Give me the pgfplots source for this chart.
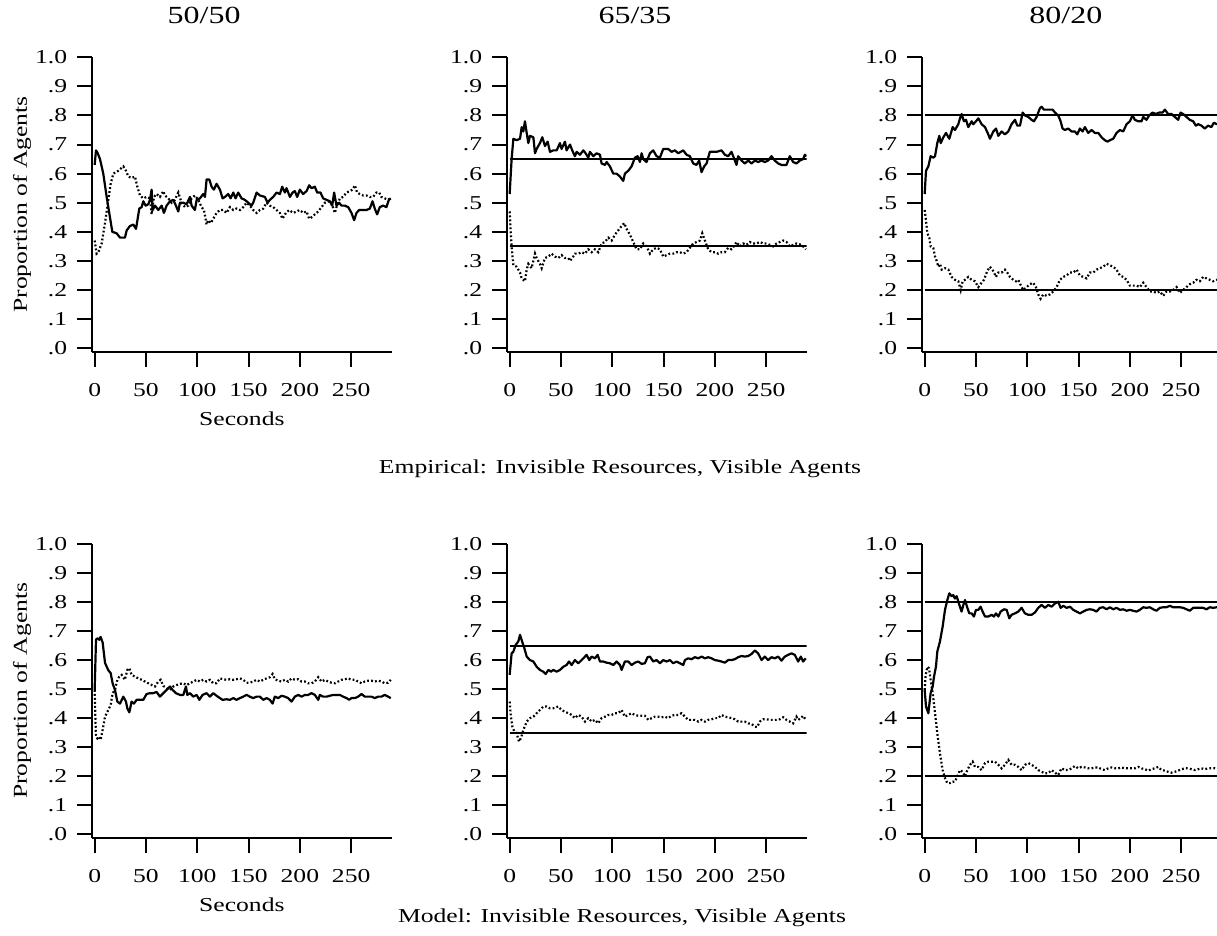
\documentclass[border=0pt]{standalone}
\usepackage{fontspec}
\setmainfont{Liberation Serif}[FakeStretch=1.3]
\usepackage{pgfplots}
\pgfplotsset{compat=1.18}
\newcommand{\tfont}{\fontsize{9.85}{11}\selectfont}
\pgfplotsset{
  panel/.style={
    scale only axis, width=149.85pt,
    xmin=-2.6, xmax=289.5, ymin=-0.012, ymax=1.0,
    axis x line=bottom, axis y line=left,
    axis line style={-, line width=1pt, black},
    xtick={0,50,100,150,200,250}, xticklabels={0,50,100,150,200,250},
    ytick={0,0.1,0.2,0.3,0.4,0.5,0.6,0.7,0.8,0.9,1},
    yticklabels={.0,.1,.2,.3,.4,.5,.6,.7,.8,.9,1.0},
    tick align=outside, major tick length=7.5pt,
    every tick/.style={line width=1pt, black},
    tick label style={font=\tfont, black},
    xticklabel shift=5pt, yticklabel shift=1.4pt,
    label style={font=\tfont},
    title style={font=\fontsize{12.3}{14}\selectfont, anchor=center},
    xlabel style={at={(axis description cs:0.5,0)}, anchor=center, yshift=-33.65pt},
    ylabel style={at={(axis description cs:-0.2336,0.5)}, anchor=center},
    clip=true,
  },
  toprow/.style={panel, height=147.2pt},
  botrow/.style={panel, height=146.85pt},
  ser/.style={black, line width=1.1pt, no marks, line join=round},
  dts/.style={black, line width=1.1pt, no marks, dash pattern=on 0.9pt off 1.1pt},
  refl/.style={black, line width=1pt, no marks},
}
\begin{document}
\begin{tikzpicture}
\useasboundingbox (0,0) rectangle (608.5pt,468pt);
\clip (0,0) rectangle (608.5pt,468pt);

% ---------- Top row: Empirical ----------
\begin{axis}[toprow, at={(46pt,292.15pt)}, anchor=south west,
  title={50/50}, title style={at={(axis description cs:0.374,1.1)}},
  xlabel={Seconds}, ylabel={Proportion of Agents}]
\addplot[ser] coordinates {(0,.63)(1.3,.68)(3,.67)(5.2,.65)(8.4,.60)(11.7,.52)(14.9,.45)(17.2,.40)(21.4,.395)(24.7,.38)(29.5,.38)(31.2,.405)(34.4,.42)(37.7,.425)(40.3,.41)(43.5,.48)(45.8,.485)(47.4,.505)(49.7,.49)(52.3,.495)(53.9,.51)(55.5,.545)(56.5,.475)(58.8,.49)(62,.475)(65.3,.49)(67.5,.465)(70.1,.49)(73.4,.505)(76.6,.51)(79.2,.49)(81.5,.47)(83.1,.50)(86.4,.50)(89.6,.495)(92.9,.52)(94.5,.49)(97.7,.475)(99.4,.51)(102.6,.515)(105.8,.53)(107.5,.52)(109.1,.58)(111.7,.58)(114,.555)(116.2,.545)(118.8,.565)(122.1,.545)(124.7,.515)(127,.52)(130.2,.53)(132.5,.515)(135.1,.535)(137.3,.515)(139.9,.535)(143.2,.515)(146.4,.51)(149.7,.50)(152.9,.49)(154.5,.50)(157.8,.535)(161,.525)(165.9,.52)(168.5,.50)(170.8,.51)(174,.52)(177.3,.535)(180.5,.53)(182.8,.555)(185.4,.535)(187,.55)(190.3,.52)(192.9,.535)(195.1,.54)(197.4,.52)(200,.545)(203.2,.53)(206.5,.54)(209.1,.56)(211.4,.55)(214.6,.555)(216.9,.535)(220.1,.535)(222.7,.515)(226,.51)(229.2,.505)(231.5,.49)(233.4,.535)(235.7,.49)(238.3,.50)(240.6,.49)(243.8,.49)(247.1,.485)(250.3,.465)(252.9,.44)(255.2,.465)(257.8,.475)(261,.475)(264.9,.475)(268.2,.48)(270.8,.505)(273,.48)(275.3,.46)(277.9,.485)(281.2,.49)(284.4,.485)(286.7,.51)(288.6,.515)};
\addplot[dts] coordinates {(0,.37)(1.9,.325)(3.6,.33)(6.8,.36)(10.1,.43)(13.3,.51)(15.6,.565)(18.2,.60)(23.1,.61)(27.9,.625)(30.5,.61)(32.8,.59)(36,.585)(39.3,.59)(41.6,.555)(44.2,.525)(47.4,.515)(50.6,.52)(53.9,.515)(55.5,.46)(57.8,.52)(60.4,.53)(63.6,.52)(66.9,.54)(68.5,.525)(71.8,.515)(75,.50)(78.2,.51)(81.5,.535)(84.7,.50)(88,.485)(91.2,.49)(94.5,.515)(97.7,.525)(101,.51)(104.2,.485)(106.5,.475)(109.1,.425)(110.7,.44)(113.3,.43)(115.6,.445)(118.8,.465)(122.1,.475)(125.3,.475)(128.6,.465)(131.8,.485)(135.1,.475)(138.3,.48)(141.6,.475)(144.8,.485)(148.1,.50)(151.3,.49)(154.5,.475)(157.8,.465)(161,.475)(164.3,.48)(167.5,.50)(170.8,.49)(174,.485)(177.3,.475)(180.5,.465)(183.1,.445)(186.4,.465)(189.6,.475)(193.5,.465)(196.8,.47)(200,.475)(203.2,.465)(206.5,.47)(209.1,.445)(211.4,.45)(214.6,.46)(217.9,.47)(221.1,.485)(224.4,.50)(227.6,.505)(230.8,.50)(234.1,.465)(235.7,.485)(239,.515)(242.2,.52)(245.5,.535)(248.7,.54)(251.3,.545)(253.6,.56)(255.8,.535)(258.4,.53)(261.7,.525)(264.9,.525)(268.2,.52)(271.4,.52)(274.7,.535)(277.3,.535)(279.5,.52)(282.8,.515)(286,.51)(288.6,.515)};
\end{axis}

\begin{axis}[toprow, at={(253.5pt,292.15pt)}, anchor=south west,
  title={65/35}, title style={at={(axis description cs:0.427,1.1)}}]
\addplot[refl] coordinates {(0,.65)(289.5,.65)};
\addplot[refl] coordinates {(0,.35)(289.5,.35)};
\addplot[ser] coordinates {(0,.53)(1.9,.65)(3.6,.72)(6.8,.715)(10.1,.72)(11.7,.76)(13.3,.745)(14.9,.78)(16.6,.74)(18.2,.705)(19.8,.73)(23.1,.725)(24.7,.67)(26.3,.685)(29.5,.705)(31.8,.725)(34.4,.695)(37,.71)(39.3,.675)(42.5,.68)(45.8,.68)(49,.705)(50.6,.685)(53.9,.71)(55.5,.68)(58.8,.70)(61,.68)(63.6,.66)(65.3,.675)(68.5,.665)(71.8,.68)(74,.67)(76.6,.655)(78.2,.675)(81.5,.66)(84.7,.67)(88,.665)(89.6,.635)(92.9,.63)(94.5,.64)(97.7,.625)(101,.60)(104.2,.60)(107.5,.59)(110.7,.575)(112.3,.60)(115.6,.61)(118.8,.625)(122.1,.655)(124.7,.66)(127,.64)(128.6,.67)(130.2,.65)(133.4,.64)(136.7,.67)(139.9,.68)(143.2,.66)(146.4,.655)(149.7,.685)(154.5,.685)(157.8,.675)(161,.68)(164.3,.67)(169.2,.68)(172.4,.665)(175.6,.66)(178.9,.635)(182.1,.63)(184.7,.645)(187,.605)(189.6,.625)(191.9,.635)(195.1,.675)(198.4,.675)(201.6,.675)(206.5,.68)(209.7,.665)(213,.66)(216.2,.675)(219.5,.645)(221.1,.63)(222.7,.66)(226,.645)(229.2,.635)(232.5,.645)(235.7,.635)(239,.645)(242.2,.64)(245.5,.645)(248.7,.64)(251.9,.645)(255.2,.66)(258.4,.645)(261.7,.635)(264.9,.63)(269.8,.63)(273,.66)(276.3,.64)(279.5,.635)(282.8,.645)(286,.65)(287.7,.665)(289.3,.66)};
\addplot[dts] coordinates {(0,.47)(1,.405)(1.9,.35)(3.6,.285)(6.8,.28)(10.1,.26)(11.7,.24)(14.9,.23)(16.6,.27)(18.2,.29)(21.4,.275)(24.7,.325)(26.3,.31)(29.5,.29)(31.2,.275)(34.4,.31)(37.7,.315)(40.9,.325)(44.2,.315)(47.4,.31)(50.6,.32)(53.9,.31)(57.1,.31)(58.8,.30)(62,.315)(63.6,.325)(66.9,.325)(70.1,.33)(73.4,.325)(76.6,.34)(79.9,.33)(83.1,.34)(86.4,.33)(89.6,.36)(92.9,.365)(96.1,.38)(99.4,.37)(102.6,.39)(105.8,.405)(109.1,.42)(111.7,.43)(114,.41)(117.2,.39)(120.5,.365)(123.7,.34)(127,.34)(130.2,.36)(133.4,.35)(136.7,.325)(139.9,.34)(143.2,.345)(146.4,.34)(149.7,.315)(152.9,.32)(156.2,.325)(159.4,.325)(162.7,.33)(165.9,.33)(169.2,.325)(172.4,.33)(175.6,.345)(178.9,.36)(182.1,.365)(185.4,.37)(187.7,.395)(190.3,.37)(193.5,.34)(196.8,.33)(200,.33)(203.2,.325)(206.5,.33)(209.7,.33)(213,.345)(216.2,.34)(219.5,.355)(221.1,.365)(224.4,.35)(227.6,.36)(230.8,.355)(234.1,.365)(237.3,.36)(240.6,.36)(243.8,.365)(247.1,.36)(250.3,.36)(253.6,.355)(256.8,.35)(260.1,.36)(263.3,.365)(266.6,.37)(269.8,.365)(273,.35)(276.3,.355)(279.5,.36)(282.8,.357)(286,.35)(288.6,.34)};
\end{axis}

\begin{axis}[toprow, at={(461pt,292.15pt)}, anchor=south west,
  title={80/20}, title style={at={(axis description cs:0.48,1.1)}}]
\addplot[refl] coordinates {(0,.8)(289.5,.8)};
\addplot[refl] coordinates {(0,.2)(289.5,.2)};
\addplot[ser] coordinates {(0,.53)(1.3,.61)(3.6,.625)(5.8,.66)(8.4,.655)(10.1,.66)(12.3,.705)(14.3,.73)(15.6,.705)(18.2,.725)(20.8,.74)(24,.72)(27.3,.76)(29.5,.75)(32.8,.77)(34.4,.79)(36,.805)(38.3,.78)(40.3,.785)(42.5,.76)(45.8,.78)(47.4,.77)(50,.78)(52.3,.79)(55.5,.77)(58.8,.76)(62,.735)(63.6,.72)(66.9,.745)(69.5,.755)(71.8,.73)(75,.745)(78.2,.735)(81.5,.745)(84.7,.77)(88,.785)(90.3,.765)(92.9,.765)(95.5,.81)(97.7,.80)(101,.795)(104.2,.785)(106.5,.78)(109.1,.795)(112.3,.825)(114,.83)(116.2,.82)(118.8,.82)(122.1,.82)(124.7,.82)(127,.81)(130.2,.80)(132.5,.78)(134.4,.755)(136.7,.75)(139.9,.755)(143.2,.745)(146.4,.745)(148.7,.735)(151.3,.755)(153.9,.745)(156.2,.76)(159.4,.74)(162.7,.75)(165.9,.74)(169.2,.74)(172.4,.725)(175.6,.715)(178.2,.71)(180.5,.715)(183.8,.72)(187,.74)(190.3,.75)(193.5,.745)(196.8,.77)(200,.78)(202.6,.80)(204.9,.785)(208.1,.78)(211.4,.78)(213,.795)(216.2,.785)(218.8,.80)(222.1,.81)(225.3,.805)(228.6,.81)(231.8,.81)(234.1,.82)(237.3,.805)(240.6,.805)(243.8,.795)(247.1,.785)(249.4,.81)(251.9,.805)(255.2,.795)(258.4,.785)(261.7,.78)(264.3,.765)(266.6,.77)(269.8,.765)(273,.755)(276.3,.765)(279.5,.76)(281.8,.775)(284.7,.77)(288,.775)};
\addplot[dts] coordinates {(0,.475)(1.3,.44)(2.6,.395)(4.5,.38)(5.8,.35)(8.4,.345)(10.1,.315)(11.7,.30)(13.3,.28)(14.9,.29)(16.6,.27)(19.8,.275)(23.1,.27)(26.3,.245)(29.5,.235)(32.8,.23)(35.1,.20)(37,.23)(39.3,.235)(42.5,.245)(45.8,.235)(49,.23)(52.3,.21)(55.5,.225)(57.8,.235)(61,.265)(63.6,.28)(66.9,.265)(69.5,.245)(71.8,.26)(75,.26)(78.2,.27)(80.5,.26)(83.1,.245)(86.4,.235)(89,.23)(91.2,.235)(94.5,.21)(96.1,.20)(99.4,.21)(102.6,.22)(105.8,.225)(108.4,.21)(110.7,.185)(113,.17)(115.6,.185)(118.8,.18)(122.1,.185)(125.3,.195)(128.6,.21)(131.8,.235)(135.1,.245)(138.3,.25)(141.6,.26)(144.8,.26)(148.1,.27)(151.3,.25)(154.5,.245)(157.8,.24)(161,.26)(164.3,.26)(167.5,.27)(170.8,.275)(174,.28)(177.3,.29)(180.5,.285)(183.8,.28)(187,.27)(190.3,.25)(193.5,.245)(196.8,.235)(200,.215)(203.2,.215)(206.5,.215)(209.7,.21)(213,.225)(216.2,.21)(219.5,.195)(222.7,.195)(226,.19)(229.2,.195)(232.5,.18)(235.7,.195)(239,.195)(242.2,.20)(245.5,.21)(248.7,.19)(251.9,.20)(255.2,.21)(258.4,.22)(261.7,.225)(264.9,.235)(268.2,.23)(271.4,.245)(274.7,.24)(277.9,.235)(281.2,.23)(284.7,.235)(288,.235)};
\end{axis}

% ---------- Bottom row: Model ----------
\begin{axis}[botrow, at={(46pt,49.15pt)}, anchor=south west,
  xlabel={Seconds}, ylabel={Proportion of Agents}]
\addplot[ser] coordinates {(0,.497)(1.3,.67)(2.6,.675)(4.5,.67)(5.8,.68)(7.8,.66)(10.1,.59)(13.3,.565)(15.6,.555)(17.5,.52)(19.8,.497)(22.1,.457)(24.7,.45)(27.9,.474)(30.5,.457)(31.8,.434)(33.8,.42)(36,.457)(38.3,.45)(40.9,.463)(44.2,.463)(47.4,.463)(50.6,.483)(53.9,.486)(57.1,.486)(60.4,.49)(63.6,.474)(66.9,.486)(70.1,.497)(73.4,.509)(76,.497)(79.2,.486)(83.1,.48)(86.4,.48)(89,.509)(90.3,.48)(92.9,.486)(96.1,.474)(99.4,.48)(102,.463)(105.2,.48)(109.1,.486)(112.3,.474)(115.6,.486)(118.8,.477)(122.1,.469)(124.7,.463)(128.6,.465)(131.8,.463)(135.1,.469)(138.3,.463)(141.6,.469)(144.8,.474)(148.1,.48)(151.3,.474)(154.5,.469)(157.8,.474)(161,.474)(164.3,.463)(167.5,.469)(170.8,.463)(173.4,.45)(175.6,.474)(178.9,.469)(182.1,.477)(185.4,.474)(188.6,.469)(191.9,.457)(195.1,.474)(198.4,.48)(201.6,.474)(204.9,.48)(208.1,.48)(211.4,.486)(214.6,.48)(217.9,.463)(219.5,.48)(222.7,.474)(226,.474)(229.2,.477)(232.5,.48)(235.7,.48)(239,.48)(242.2,.474)(245.5,.469)(248,.463)(250.3,.469)(253.6,.469)(256.8,.474)(260.1,.483)(263.3,.474)(266.6,.474)(269.8,.474)(273,.469)(276.3,.474)(279.5,.474)(282.8,.48)(286,.474)(288.6,.469)};
\addplot[dts] coordinates {(0,.497)(0.6,.417)(1.3,.336)(2.6,.33)(4.5,.336)(5.8,.325)(7.8,.36)(10.1,.405)(13.3,.428)(15.6,.445)(17.5,.486)(19.8,.497)(22.1,.532)(24,.543)(26.3,.549)(29.5,.532)(31.8,.566)(33.8,.572)(36,.549)(39.3,.543)(42.5,.537)(45.8,.532)(49,.526)(52.3,.52)(55.5,.514)(58.8,.509)(62,.526)(64.3,.532)(66.9,.511)(70.1,.503)(73.4,.497)(76.6,.509)(79.9,.514)(83.1,.518)(86.4,.52)(89.6,.514)(92.9,.52)(96.1,.526)(99.4,.532)(102.6,.526)(105.8,.532)(109.1,.526)(112.3,.532)(115.6,.52)(118.8,.52)(122.1,.537)(125.3,.534)(128.6,.532)(131.8,.534)(135.1,.532)(138.3,.534)(141.6,.537)(144.8,.532)(148.1,.522)(151.3,.522)(154.5,.526)(157.8,.532)(161,.526)(164.3,.532)(167.5,.537)(170.8,.541)(173.4,.552)(175.6,.534)(178.9,.529)(182.1,.526)(185.4,.532)(188.6,.526)(191.9,.537)(195.1,.532)(198.4,.534)(201.6,.526)(204.9,.526)(208.1,.52)(211.4,.52)(214.6,.526)(217.9,.541)(221.1,.526)(224.4,.532)(227.6,.526)(230.8,.522)(234.1,.52)(237.3,.526)(240.6,.532)(243.8,.534)(247.1,.537)(250.3,.532)(253.6,.532)(256.8,.526)(260.1,.52)(263.3,.526)(266.6,.529)(269.8,.529)(273,.526)(276.3,.529)(279.5,.526)(282.8,.52)(286,.522)(288.6,.532)};
\end{axis}

\begin{axis}[botrow, at={(253.5pt,49.15pt)}, anchor=south west]
\addplot[refl] coordinates {(0,.65)(289.5,.65)};
\addplot[refl] coordinates {(0,.35)(289.5,.35)};
\addplot[ser] coordinates {(0,.549)(1.9,.623)(3.6,.629)(5.8,.652)(8.4,.664)(10.1,.687)(11.7,.669)(14.3,.641)(16.6,.612)(19.8,.60)(23.1,.595)(26.3,.577)(29.5,.566)(32.8,.56)(35.1,.552)(37.7,.566)(40.3,.56)(42.5,.566)(45.8,.56)(49,.566)(52.3,.577)(55.5,.583)(57.8,.595)(60.4,.583)(63.6,.60)(66.9,.589)(70.1,.60)(73.4,.612)(75,.618)(77.6,.60)(79.9,.612)(83.1,.606)(85.7,.618)(88,.595)(91.2,.595)(94.5,.591)(97.7,.589)(101,.583)(104.2,.595)(107.5,.583)(109.1,.566)(112.3,.595)(115.6,.595)(118.8,.583)(122.1,.591)(125.3,.595)(128.6,.587)(131.8,.589)(134.4,.61)(136.7,.612)(139.9,.595)(143.2,.60)(146.4,.589)(149.7,.60)(152.9,.595)(156.2,.60)(159.4,.589)(162.7,.595)(165.9,.589)(169.2,.583)(170.8,.60)(174,.606)(177.3,.603)(180.5,.61)(183.8,.606)(187,.612)(190.3,.606)(193.5,.61)(196.8,.606)(200,.60)(203.2,.598)(206.5,.595)(209.7,.591)(213,.60)(216.2,.60)(219.5,.603)(222.7,.61)(226,.614)(229.2,.612)(232.5,.614)(235.7,.621)(239,.633)(242.2,.623)(245.5,.60)(248.7,.612)(251.9,.60)(255.2,.61)(258.4,.606)(261.7,.612)(264.9,.598)(268.2,.612)(271.4,.618)(274.7,.623)(277.9,.618)(281.2,.595)(283.8,.612)(286,.595)(288.6,.606)};
\addplot[dts] coordinates {(0,.457)(1,.411)(2.6,.371)(4.5,.354)(6.8,.348)(9.1,.319)(11,.331)(13.3,.359)(16.6,.388)(19.8,.40)(23.1,.405)(26.3,.417)(29.5,.428)(32.8,.44)(36,.44)(39.3,.434)(42.5,.434)(47.4,.44)(50.6,.428)(53.9,.422)(57.1,.417)(60.4,.411)(63.6,.40)(66.9,.411)(70.1,.405)(73.4,.388)(76.6,.40)(79.9,.388)(83.1,.394)(86.4,.382)(89.6,.40)(92.9,.405)(96.1,.411)(99.4,.411)(102.6,.417)(105.8,.417)(109.1,.428)(112.3,.405)(115.6,.411)(118.8,.417)(122.1,.411)(125.3,.408)(128.6,.408)(131.8,.408)(135.1,.394)(138.3,.40)(141.6,.405)(144.8,.405)(148.1,.403)(151.3,.405)(154.5,.40)(157.8,.408)(161,.411)(164.3,.411)(167.5,.417)(170.8,.405)(174,.394)(177.3,.394)(180.5,.394)(183.8,.388)(187,.394)(190.3,.388)(193.5,.394)(196.8,.396)(200,.40)(203.2,.40)(206.5,.411)(209.7,.405)(213,.403)(216.2,.40)(219.5,.396)(222.7,.388)(226,.388)(229.2,.388)(232.5,.382)(235.7,.38)(239,.371)(241.2,.369)(243.8,.388)(247.1,.396)(250.3,.396)(253.6,.394)(256.8,.394)(260.1,.394)(263.3,.396)(266.6,.403)(269.8,.394)(273,.388)(276.3,.382)(279.5,.405)(281.2,.394)(283.8,.40)(286,.408)(288.6,.394)};
\end{axis}

\begin{axis}[botrow, at={(461pt,49.15pt)}, anchor=south west]
\addplot[refl] coordinates {(0,.8)(289.5,.8)};
\addplot[refl] coordinates {(0,.2)(289.5,.2)};
\addplot[ser] coordinates {(0,.497)(1.3,.44)(3.6,.417)(5.8,.486)(7.8,.509)(9.1,.543)(11,.577)(12.3,.629)(14.9,.664)(17.5,.715)(19.8,.773)(22.1,.807)(24,.83)(26.3,.82)(27.9,.824)(29.5,.812)(31.2,.82)(33.8,.79)(36,.767)(37.7,.79)(39.3,.807)(41.6,.78)(43.5,.761)(45.8,.761)(48,.75)(50,.773)(52.3,.773)(54.5,.784)(56.5,.767)(58.8,.75)(62,.75)(65.3,.756)(67.5,.75)(69.5,.761)(71.8,.75)(74,.767)(77.3,.775)(79.9,.773)(82.5,.744)(84.7,.756)(88,.761)(91.2,.767)(94.5,.78)(97.7,.761)(101,.756)(104.2,.756)(107.5,.764)(110.7,.78)(114,.79)(117.2,.78)(120.5,.79)(123.7,.784)(127,.795)(130.2,.801)(132.5,.78)(135.1,.787)(138.3,.78)(141.6,.784)(144.8,.773)(148.1,.767)(151.3,.761)(154.5,.767)(157.8,.773)(161,.775)(164.3,.773)(167.5,.767)(170.8,.78)(174,.782)(177.3,.775)(180.5,.782)(183.8,.775)(187,.78)(190.3,.773)(193.5,.775)(196.8,.77)(200,.773)(203.2,.77)(206.5,.767)(209.7,.773)(213,.782)(216.2,.78)(219.5,.782)(222.7,.775)(226,.77)(229.2,.78)(232.5,.782)(235.7,.782)(239,.787)(242.2,.782)(245.5,.782)(248.7,.782)(251.9,.78)(255.2,.775)(258.4,.77)(261.7,.78)(264.9,.78)(268.2,.78)(271.4,.78)(274.7,.775)(277.9,.782)(281.2,.78)(284.7,.782)(288,.78)};
\addplot[dts] coordinates {(0,.497)(1,.549)(2.6,.577)(4.2,.572)(5.8,.532)(7.8,.486)(10.1,.417)(12.3,.348)(14.9,.279)(17.5,.221)(19.8,.193)(22.1,.176)(24.7,.176)(27.3,.181)(29.5,.181)(31.8,.199)(34.4,.221)(37,.215)(39.3,.199)(41.6,.221)(44.2,.239)(46.8,.25)(49,.232)(52.3,.232)(55.5,.221)(58.8,.245)(62,.25)(65.3,.25)(68.5,.25)(71.8,.239)(75,.227)(78.2,.239)(81.5,.256)(84.7,.239)(88,.239)(91.2,.232)(94.5,.221)(97.7,.239)(101,.245)(104.2,.239)(107.5,.232)(110.7,.221)(114,.215)(117.2,.21)(120.5,.21)(123.7,.221)(127,.212)(130.2,.204)(133.4,.227)(136.7,.221)(139.9,.221)(143.2,.227)(146.4,.235)(149.7,.227)(152.9,.232)(156.2,.23)(159.4,.227)(162.7,.227)(165.9,.23)(169.2,.23)(172.4,.224)(175.6,.221)(178.9,.227)(182.1,.23)(185.4,.227)(188.6,.227)(191.9,.23)(195.1,.227)(198.4,.227)(201.6,.227)(204.9,.227)(208.1,.232)(211.4,.227)(214.6,.224)(217.9,.219)(221.1,.224)(224.4,.227)(227.6,.232)(230.8,.221)(234.1,.219)(237.3,.215)(240.6,.212)(243.8,.215)(247.1,.219)(250.3,.224)(253.6,.227)(256.8,.227)(260.1,.224)(263.3,.221)(266.6,.224)(269.8,.227)(273,.224)(276.3,.227)(279.5,.227)(282.8,.227)(284.7,.224)(288,.225)};
\end{axis}

\node[font=\tfont, anchor=center] at (310pt,233.5pt) {Empirical: Invisible Resources, Visible Agents};
\node[font=\tfont, anchor=center] at (311pt,9pt) {Model: Invisible Resources, Visible Agents};
\end{tikzpicture}
\end{document}
